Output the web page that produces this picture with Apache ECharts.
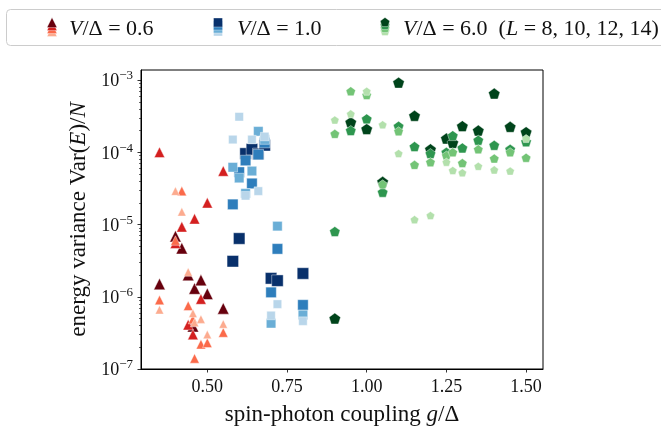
<!DOCTYPE html>
<html>
<head>
<meta charset="utf-8">
<script src="https://cdn.jsdelivr.net/npm/echarts@6/dist/echarts.min.js"></script>
<style>
  html, body { margin: 0; padding: 0; background: #fff; }
  #chart { width: 661px; height: 426px; }
</style>
</head>
<body>
<div id="chart"></div>
<script>
// coupling values g/Delta for each V/Delta
const gV06 = [0.35, 0.40, 0.42, 0.44, 0.455, 0.46, 0.48, 0.50, 0.55];
const gV10 = [0.58, 0.60, 0.62, 0.64, 0.66, 0.68, 0.70, 0.72, 0.80];
const gV60 = [0.90, 0.95, 1.00, 1.05, 1.10, 1.15, 1.20, 1.25, 1.27, 1.30, 1.35, 1.40, 1.45, 1.50];

// Var(E)/N, V/Delta = 0.6
const v06L8  = [6.6e-7, 2.9e-5, 1.5e-5, 2.2e-6, 5.9e-7, 4.4e-7, 4.9e-7, 3.0e-7, 4.2e-7];
const v06L10 = [9.0e-7, 6.0e-6, 2.9e-5, 7.5e-7, 4.9e-7, 1.4e-7, 2.2e-7, 2.3e-7, 3.2e-7];
const v06L12 = [1.0e-4, 5.5e-6, 9.3e-6, 4.1e-7, 3.0e-7, 1.2e-5, 9.3e-7, 2.0e-5, 5.5e-5];
const v06L14 = [1.5e-6, 6.9e-6, 4.7e-6, 2.0e-6, 3.9e-7, 1.3e-6, 1.7e-6, 1.1e-6, 6.9e-7];

// V/Delta = 1.0
const v10L8  = [1.5e-4, 3.1e-4, 2.5e-5, 1.5e-4, 2.9e-5, 1.65e-4, 5.5e-7, 7.9e-7, 4.6e-7];
const v10L10 = [6.2e-5, 4.4e-5, 2.7e-5, 5.5e-5, 1.95e-4, 1.5e-4, 4.3e-7, 9.5e-6, 5.6e-7];
const v10L12 = [1.9e-5, 5.3e-5, 7.7e-5, 3.7e-5, 9.3e-5, 1.36e-4, 1.15e-6, 4.6e-6, 7.7e-7];
const v10L14 = [3.1e-6, 6.4e-6, 9.6e-5, 1.1e-4, 9.5e-5, 1.25e-4, 1.8e-6, 1.67e-6, 2.1e-6];

// V/Delta = 6.0
const v60L8  = [2.8e-4, 3.4e-4, 7.0e-4, 2.4e-4, 9.6e-5, 1.17e-5, 1.33e-5, 7.3e-5, 5.6e-5, 5.2e-5, 6.4e-5, 5.7e-5, 5.5e-5, 1.55e-4];
const v60L10 = [1.8e-4, 7.0e-4, 6.2e-4, 3.6e-5, 1.95e-4, 6.7e-5, 7.3e-5, 9.0e-5, 1.0e-4, 7.1e-5, 1.1e-4, 8.2e-5, 1.0e-4, 8.4e-5];
const v60L12 = [8.0e-6, 2.0e-4, 2.9e-4, 2.8e-5, 2.3e-4, 1.2e-4, 9.6e-5, 1.0e-4, 1.7e-4, 1.15e-4, 1.47e-4, 1.25e-4, 1.1e-4, 1.4e-4];
const v60L14 = [5.0e-7, 2.6e-4, 2.1e-4, 3.9e-5, 9.2e-4, 3.2e-4, 1.1e-4, 1.55e-4, 1.35e-4, 2.3e-4, 2.0e-4, 6.5e-4, 2.25e-4, 1.9e-4];

const xTicks = [0.50, 0.75, 1.00, 1.25, 1.50];
const yTicks = [1e-7, 1e-6, 1e-5, 1e-4, 1e-3];
const yMinor = [];
for (let e = -7; e <= -4; e++) {
  for (let m = 2; m <= 9; m++) yMinor.push(m * Math.pow(10, e));
}

const FONT = 'Liberation Serif';
const PENTA = 'path://M0,-1L0.951,-0.309L0.588,0.809L-0.588,0.809L-0.951,-0.309Z';

const groups = [
  { name: 'V/Δ = 0.6', g: gV06, symbol: 'triangle', L: [v06L14, v06L12, v06L10, v06L8],
    colors: ['#67000d', '#d42020', '#fb6a4a', '#fcab8f'] },
  { name: 'V/Δ = 1.0', g: gV10, symbol: 'rect', L: [v10L14, v10L12, v10L10, v10L8],
    colors: ['#08306b', '#2e7ebc', '#6aaed6', '#b9d6ea'] },
  { name: 'V/Δ = 6.0', g: gV60, symbol: PENTA, L: [v60L14, v60L12, v60L10, v60L8],
    colors: ['#00441b', '#2e964f', '#73c476', '#b3e0ac'] }
];
const sizes = [11.5, 10.5, 9.5, 8.5];

let series = [];
groups.forEach(grp => {
  grp.L.forEach((vals, i) => {
    series.push({
      type: 'scatter',
      symbol: grp.symbol,
      symbolKeepAspect: true,
      symbolSize: sizes[i],
      data: grp.g.map((g, k) => [g, vals[k]]),
      itemStyle: { color: grp.colors[i], opacity: 1, borderColor: 'rgba(255,255,255,0.6)', borderWidth: 0.7 },
      emphasis: { disabled: true },
      silent: true
    });
  });
});

// legend drawn as graphics (stacked markers like the original)
function legendIcon(grp, cx) {
  let els = [];
  for (let i = 3; i >= 0; i--) {
    const cy = 22.5 + i * 3;
    const c = grp.colors[i];
    const s = 5;
    if (grp.symbol === 'triangle') {
      els.push({ type: 'polygon', shape: { points: [[cx, cy - s], [cx + s, cy + s], [cx - s, cy + s]] },
        style: { fill: c, stroke: 'rgba(255,255,255,0.6)', lineWidth: 0.6 } });
    } else if (grp.symbol === 'rect') {
      els.push({ type: 'rect', shape: { x: cx - 4.5, y: cy - 4.5, width: 9, height: 9 },
        style: { fill: c, stroke: 'rgba(255,255,255,0.6)', lineWidth: 0.6 } });
    } else {
      const pts = [0, 1, 2, 3, 4].map(k => {
        const a = -Math.PI / 2 + k * 2 * Math.PI / 5;
        return [cx + s * Math.cos(a), cy + s * Math.sin(a)];
      });
      els.push({ type: 'polygon', shape: { points: pts },
        style: { fill: c, stroke: 'rgba(255,255,255,0.6)', lineWidth: 0.6 } });
    }
  }
  return els;
}

function legendText(x, v, extra) {
  let t = '{i|V}{r|/Δ = ' + v + '}';
  if (extra) t += '{r|  (}{i|L}{r| = 8, 10, 12, 14)}';
  return {
    type: 'text', x: x, y: 29,
    style: {
      text: t, verticalAlign: 'middle', fill: '#111',
      rich: {
        r: { fontFamily: FONT, fontSize: 22, fill: '#111' },
        i: { fontFamily: FONT, fontSize: 22, fontStyle: 'italic', fill: '#111' }
      }
    }
  };
}

const legendEls = [
  { type: 'rect', shape: { x: 6.5, y: 9.5, width: 665, height: 36, r: 4 },
    style: { fill: 'rgba(255,255,255,0.8)', stroke: '#cccccc', lineWidth: 1 } }
]
  .concat(legendIcon(groups[0], 52))
  .concat(legendIcon(groups[1], 218))
  .concat(legendIcon(groups[2], 385))
  .concat([legendText(69, '0.6'), legendText(237, '1.0'), legendText(403, '6.0', true)]);

const axisTxt = { fontFamily: FONT, fontSize: 18, color: '#111' };

let myChart = echarts.init(document.getElementById('chart'));
myChart.setOption({
  animation: false,
  grid: { left: 141, right: 118, top: 70, bottom: 57, outerBoundsMode: 'none', containLabel: false,
    show: true, borderColor: '#000', borderWidth: 1 },
  xAxis: {
    type: 'value', min: 0.292, max: 1.553,
    axisLine: { show: true, onZero: false, lineStyle: { color: '#000', width: 1 } },
    splitLine: { show: false },
    axisTick: { customValues: xTicks, length: 3.5, lineStyle: { color: '#000', width: 0.8 } },
    axisLabel: Object.assign({ customValues: xTicks, margin: 9, formatter: v => v.toFixed(2) }, axisTxt),
    name: '{r|spin-photon coupling }{i|g}{r|/Δ}',
    nameLocation: 'middle', nameGap: 34,
    nameTextStyle: {
      rich: {
        r: { fontFamily: FONT, fontSize: 23, color: '#111' },
        i: { fontFamily: FONT, fontSize: 23, fontStyle: 'italic', color: '#111' }
      }
    }
  },
  yAxis: [
    {
      type: 'log', logBase: 10, min: 1e-7, max: 1.377e-3,
      axisLine: { show: true, onZero: false, lineStyle: { color: '#000', width: 1 } },
      splitLine: { show: false },
      axisTick: { customValues: yTicks, length: 3.5, lineStyle: { color: '#000', width: 0.8 } },
      axisLabel: {
        customValues: yTicks, margin: 8,
        formatter: v => '{b|10}{s|−' + Math.round(-Math.log10(v)) + '}',
        rich: {
          b: { fontFamily: FONT, fontSize: 18, color: '#111', verticalAlign: 'bottom' },
          s: { fontFamily: FONT, fontSize: 13, color: '#111', verticalAlign: 'bottom', padding: [0, 0, 8, 0] }
        }
      },
      name: '{r|energy variance Var(}{i|E}{r|)/}{i|N}',
      nameLocation: 'middle', nameGap: 46,
      nameTextStyle: {
        rich: {
          r: { fontFamily: FONT, fontSize: 23, color: '#111' },
          i: { fontFamily: FONT, fontSize: 23, fontStyle: 'italic', color: '#111' }
        }
      }
    },
    {
      type: 'log', logBase: 10, min: 1e-7, max: 1.377e-3, position: 'left',
      axisLine: { show: false },
      splitLine: { show: false },
      axisLabel: { show: false },
      axisTick: { customValues: yMinor, length: 2, lineStyle: { color: '#000', width: 0.6 } }
    }
  ],
  graphic: legendEls,
  series: series
});
</script>
</body>
</html>
